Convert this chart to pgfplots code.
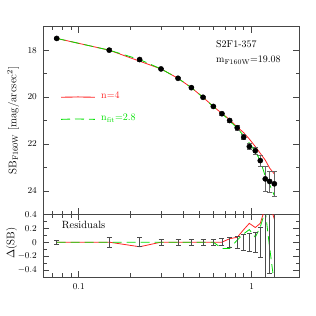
\documentclass[border=0pt]{standalone}
\usepackage{fontspec}
\usepackage{pgfplots}
\pgfplotsset{compat=1.18}
\usepackage{pgfplotstable}
\definecolor{fitgreen}{RGB}{0,225,0}
\definecolor{modred}{RGB}{255,35,35}
\definecolor{framec}{RGB}{70,70,70}

\pgfplotstableread{
x      sb     err
0.0746 17.50 0.03
0.150  18.00 0.07
0.225  18.40 0.065
0.299  18.80 0.045
0.375  19.20 0.045
0.448  19.60 0.045
0.523  20.01 0.045
0.600  20.40 0.045
0.673  20.71 0.05
0.746  21.00 0.07
0.825  21.31 0.09
0.899  21.71 0.11
0.969  22.11 0.13
1.049  22.29 0.14
1.121  22.71 0.23
1.198  23.49 0.55
1.270  23.60 0.45
1.352  23.70 0.52
}\datatab

\pgfplotstableread{
x      y
0.0746 17.50
0.150  18.00
0.225  18.47
0.299  18.80
0.375  19.20
0.448  19.60
0.523  20.01
0.600  20.40
0.673  20.70
0.746  20.96
0.825  21.28
0.899  21.52
0.969  21.79
1.049  22.11
1.121  22.40
1.198  22.69
1.270  23.03
1.352  23.28
}\redmodel

\pgfplotstableread{
x      y
0.0746 17.50
0.150  18.00
0.225  18.40
0.299  18.80
0.375  19.20
0.448  19.60
0.523  20.01
0.600  20.41
0.673  20.70
0.746  21.02
0.825  21.33
0.899  21.65
0.969  21.96
1.049  22.33
1.121  22.70
1.198  23.38
1.270  23.74
1.352  24.20
}\greenmodel

\pgfplotstableread{
x      y
0.079  20.01
0.099  19.995
0.124  20.01
}\redkey

\pgfplotstableread{
x      y
0.079  20.95
0.099  20.935
0.124  20.95
}\greenkey

\pgfplotstableread{
x      y   err
0.0746 0 0.03
0.150  0 0.07
0.225  0 0.065
0.299  0 0.045
0.375  0 0.045
0.448  0 0.045
0.523  0 0.045
0.600  0 0.045
0.673  0 0.05
0.746  0 0.07
0.825  0 0.09
0.899  0 0.11
0.969  0 0.13
1.049  0 0.14
1.121  0 0.22
1.198  0 0.60
1.270  0 0.45
1.352  0 0.55
}\residbars

\pgfplotstableread{
x      y
0.0746 0
0.150  0
0.225  -0.066
0.299  0
0.375  0
0.448  0
0.523  0
0.600  0
0.673  0
0.746  0.05
0.825  0.07
0.899  0.18
0.969  0.27
1.049  0.21
1.121  0.27
1.198  0.50
1.270  0.55
1.352  0.33
}\redresid

\pgfplotstableread{
x      y
0.0746 0
0.150  0
0.225  0
0.299  0
0.375  0
0.448  0
0.523  0
0.600  0
0.673  -0.09
0.746  -0.09
0.825  0.03
0.899  0.12
0.969  0.18
1.049  0.07
1.121  0.22
1.198  0.45
1.270  -0.08
1.352  -0.60
}\greenresid

\pgfplotsset{
  panel/.style={
    scale only axis, width=255.7pt,
    xmin=0.0624, xmax=1.877,
    tick align=inside, xtick pos=both, ytick pos=both,
    axis line style={framec, line width=0.7pt},
    every tick/.style={framec, line width=0.6pt},
    major tick length=6pt, minor tick length=3.5pt,
    xtick={0.1,1}, minor xtick={0.07,0.08,0.09,0.2,0.3,0.4,0.5,0.6,0.7,0.8,0.9},
    tick label style={font=\fontsize{9}{10}\selectfont},
    yticklabel style={xshift=-3pt},
    xticklabel style={yshift=-3pt},
    label style={font=\fontsize{11}{12}\selectfont},
  },
}

\begin{document}
\begin{tikzpicture}
\useasboundingbox (0,0) rectangle (316pt,316pt);
\begin{axis}[xmode=log, panel, name=top,
  at={(43.3pt,101.7pt)}, anchor=south west, height=187.6pt,
  ymin=17, ymax=25, y dir=reverse,
  ytick={18,20,22,24}, minor ytick={19,21,23},
  xticklabels={},
  ylabel={SB$_{\mathrm{F160W}}$ [mag/arcsec$^2$]},
  ylabel style={at={(axis description cs:-0.118,0.5)}, anchor=center},
]
\addplot[color=modred, mark=none, line width=0.9pt] table[x=x,y=y] {\redkey};
\addplot[color=fitgreen, mark=none, line width=0.9pt, dash pattern=on 9pt off 5pt] table[x=x,y=y] {\greenkey};
\addplot[draw=modred, mark=none, line width=0.8pt] table[x=x,y=y] {\redmodel};
\addplot[draw=fitgreen, mark=none, line width=0.8pt, dash pattern=on 9pt off 5pt] table[x=x,y=y] {\greenmodel};
\addplot[only marks, mark=*, mark size=2.6pt, black,
  error bars/.cd, y dir=both, y explicit,
  error bar style={black!60, line width=0.6pt},
  error mark options={rotate=90, mark size=2.5pt, black!60, line width=0.6pt}]
  table[x=x,y=sb,y error=err] {\datatab};
\node[anchor=west, text=modred, font=\fontsize{10}{12}\selectfont, inner sep=0pt] at (axis cs:0.1345,19.9) {n=4};
\node[anchor=west, text=fitgreen, font=\fontsize{10}{12}\selectfont, inner sep=0pt] at (axis cs:0.1345,20.9) {n$_{\mathrm{fit}}$=2.8};
\node[anchor=west, font=\fontsize{10}{12}\selectfont, inner sep=0pt] at (axis cs:0.6216,17.74) {S2F1-357};
\node[anchor=west, font=\fontsize{10}{12}\selectfont, inner sep=0pt] at (axis cs:0.6216,18.44) {m$_{\mathrm{F160W}}$=19.08};
\end{axis}
\begin{axis}[xmode=log, panel, name=bot,
  at={(43.3pt,39pt)}, anchor=south west, height=62.7pt,
  ymin=-0.5, ymax=0.4,
  ytick={-0.4,-0.2,0,0.2,0.4}, minor ytick={-0.3,-0.1,0.1,0.3},
  xticklabels={0.1,1},
  ylabel={$\Delta$(SB)},
  ylabel style={at={(axis description cs:-0.124,0.54)}, anchor=center},
]
\addplot[draw=modred, mark=none, line width=0.8pt] table[x=x,y=y] {\redresid};
\addplot[draw=fitgreen, mark=none, line width=0.8pt, dash pattern=on 9pt off 5pt] table[x=x,y=y] {\greenresid};
\addplot[draw=none, mark=none,
  error bars/.cd, y dir=both, y explicit,
  error bar style={black!70, line width=0.6pt},
  error mark options={rotate=90, mark size=2.5pt, black!70, line width=0.6pt}]
  table[x=x,y=y,y error=err] {\residbars};
\node[anchor=west, font=\fontsize{10.5}{12}\selectfont, inner sep=0pt] at (axis cs:0.0798,0.25) {Residuals};
\end{axis}
\end{tikzpicture}
\end{document}
